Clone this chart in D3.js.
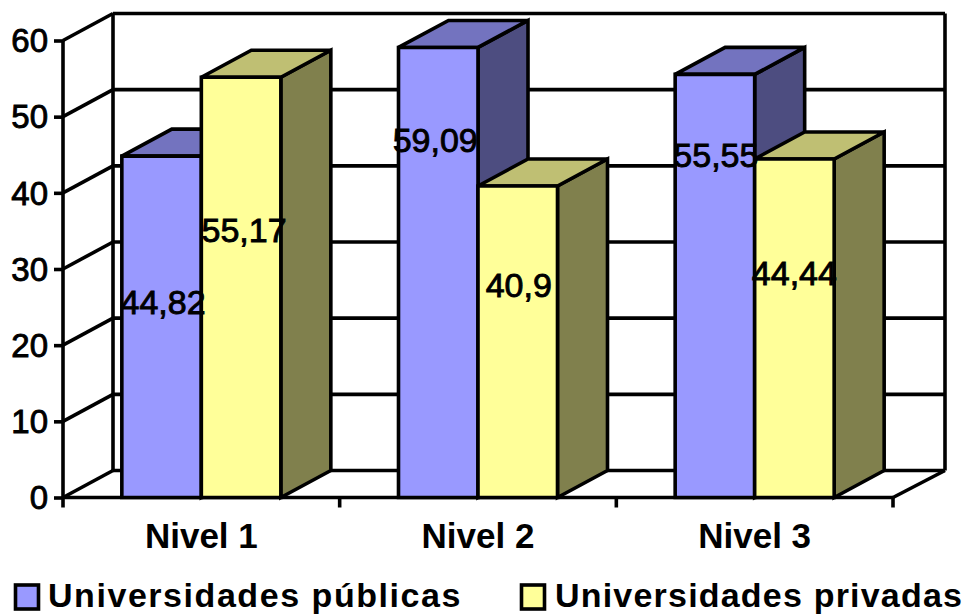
<!DOCTYPE html>
<html>
<head>
<meta charset="utf-8">
<title>Universidades por nivel</title>
<script src="https://cdn.jsdelivr.net/npm/d3@7"></script>
<style>
  html, body { margin: 0; padding: 0; background: #fff; }
  svg { display: block; }
  text { font-family: "Liberation Sans", Arial, sans-serif; fill: #000; }
</style>
</head>
<body>
<svg id="chart" width="966" height="615"></svg>
<script>
const categories = ["Nivel 1", "Nivel 2", "Nivel 3"];
const seriesNames = ["Universidades públicas", "Universidades privadas"];
const publicValues = [44.82, 59.09, 55.55];
const privateValues = [55.17, 40.9, 44.44];
const valueLabels = [["44,82", "59,09", "55,55"], ["55,17", "40,9", "44,44"]];
const yTicks = [0, 10, 20, 30, 40, 50, 60];

// Hand placed value labels: height in axis units, and sideways nudge in pixels.
const labelLevels = [[25.4, 46.6, 44.7], [34.9, 27.6, 29.2]];
const labelNudge = [[1.5, -3, 1], [3, 1, 0]];

const seriesValues = [publicValues, privateValues];
const seriesColors = [
  { front: "#9999ff", top: "#7373bf", side: "#4d4d80" },
  { front: "#ffff99", top: "#bfbf73", side: "#80804d" }
];

const plotLeft = 63, plotRight = 893, plotBottom = 497.5, plotTop = 40.5;
const depthX = 50, depthY = -27;
const stroke = 3.6;
const heavyText = sel => sel.attr("stroke", "#000").attr("stroke-width", 0.9).attr("paint-order", "stroke");

const svg = d3.select("#chart");
const y = d3.scaleLinear().domain([0, 60]).range([plotBottom, plotTop]);
const x = d3.scaleBand().domain(categories).range([plotLeft, plotRight]);
const xInner = d3.scaleBand().domain(d3.range(seriesNames.length))
  .range([0, x.bandwidth()]).paddingInner(0).paddingOuter(0.74);

const poly = pts => "M" + pts.map(p => p.join(",")).join("L") + "Z";
const wall = svg.append("g").attr("fill", "none").attr("stroke", "#000")
  .attr("stroke-width", stroke).attr("stroke-linejoin", "miter");

// Back wall, with its gridlines, and the left wall's slanted rules.
yTicks.forEach(t => {
  wall.append("line").attr("x1", plotLeft + depthX).attr("x2", plotRight + depthX + 2)
    .attr("y1", y(t) + depthY).attr("y2", y(t) + depthY);
  wall.append("line").attr("x1", plotLeft).attr("x2", plotLeft + depthX)
    .attr("y1", y(t)).attr("y2", y(t) + depthY);
});
wall.append("line").attr("x1", plotLeft + depthX).attr("x2", plotLeft + depthX)
  .attr("y1", y(60) + depthY).attr("y2", y(0) + depthY);
wall.append("line").attr("x1", plotRight + depthX + 2).attr("x2", plotRight + depthX + 2)
  .attr("y1", y(60) + depthY).attr("y2", y(0) + depthY);
wall.append("line").attr("x1", plotRight).attr("x2", plotRight + depthX + 2)
  .attr("y1", y(0)).attr("y2", y(0) + depthY);

// Value axis with outward ticks.
const yAxis = svg.append("g").attr("transform", `translate(${plotLeft},0)`)
  .call(d3.axisLeft(y).tickValues(yTicks).tickSize(9).tickPadding(6).tickFormat(d3.format("d")));
yAxis.selectAll("line, path").attr("stroke", "#000").attr("stroke-width", stroke);
yAxis.select(".domain").attr("d", `M0,${plotTop}V${plotBottom}`);
yAxis.selectAll("text").attr("font-size", 33).style("font-family", '"Liberation Sans"').attr("dy", "0.34em").call(heavyText);

// Category axis: labels at band centres, ticks at band edges.
const xAxis = svg.append("g").attr("transform", `translate(0,${plotBottom})`)
  .call(d3.axisBottom(x).tickSize(0).tickPadding(26));
xAxis.select(".domain").attr("d", `M${plotLeft},0H${plotRight}`).attr("stroke", "#000").attr("stroke-width", stroke);
xAxis.selectAll("text").attr("font-size", 35).attr("font-weight", "bold").style("font-family", '"Liberation Sans"').attr("dy", "0.71em");
const edges = categories.map(c => x(c)).concat(plotRight);
xAxis.selectAll("line.edge").data(edges).join("line").attr("class", "edge")
  .attr("x1", d => d).attr("x2", d => d).attr("y1", 0).attr("y2", 10)
  .attr("stroke", "#000").attr("stroke-width", stroke);

// Bars: far faces first so the next bar overlaps the previous one.
const bars = svg.append("g").attr("stroke", "#000").attr("stroke-width", stroke).attr("stroke-linejoin", "miter");
categories.forEach((cat, i) => {
  seriesValues.forEach((vals, s) => {
    const x0 = x(cat) + xInner(s), x1 = x0 + xInner.bandwidth();
    const yT = y(vals[i]), yB = y(0);
    const c = seriesColors[s];
    bars.append("path").attr("fill", c.side)
      .attr("d", poly([[x1, yB], [x1 + depthX, yB + depthY], [x1 + depthX, yT + depthY], [x1, yT]]));
    bars.append("path").attr("fill", c.top)
      .attr("d", poly([[x0, yT], [x0 + depthX, yT + depthY], [x1 + depthX, yT + depthY], [x1, yT]]));
    bars.append("path").attr("fill", c.front)
      .attr("d", poly([[x0, yB], [x0, yT], [x1, yT], [x1, yB]]));
  });
});

// Value labels above every bar.
categories.forEach((cat, i) => {
  seriesValues.forEach((vals, s) => {
    svg.append("text")
      .attr("x", x(cat) + xInner(s) + xInner.bandwidth() / 2 + labelNudge[s][i])
      .attr("y", y(labelLevels[s][i]))
      .attr("dy", "0.29em").attr("text-anchor", "middle").attr("font-size", 34)
      .call(heavyText)
      .text(valueLabels[s][i]);
  });
});

// Legend row.
const legendX = [14, 520], textX = [48, 555], legendSpacing = [1.55, 1.2];
seriesNames.forEach((name, s) => {
  svg.append("rect").attr("x", legendX[s] + 1.5).attr("y", 585).attr("width", 23).attr("height", 24)
    .attr("fill", seriesColors[s].front).attr("stroke", "#000").attr("stroke-width", 3.6);
  svg.append("text").attr("x", textX[s]).attr("y", 607)
    .attr("font-size", 34).attr("font-weight", "bold").attr("letter-spacing", legendSpacing[s])
    .text(name);
});
</script>
</body>
</html>
